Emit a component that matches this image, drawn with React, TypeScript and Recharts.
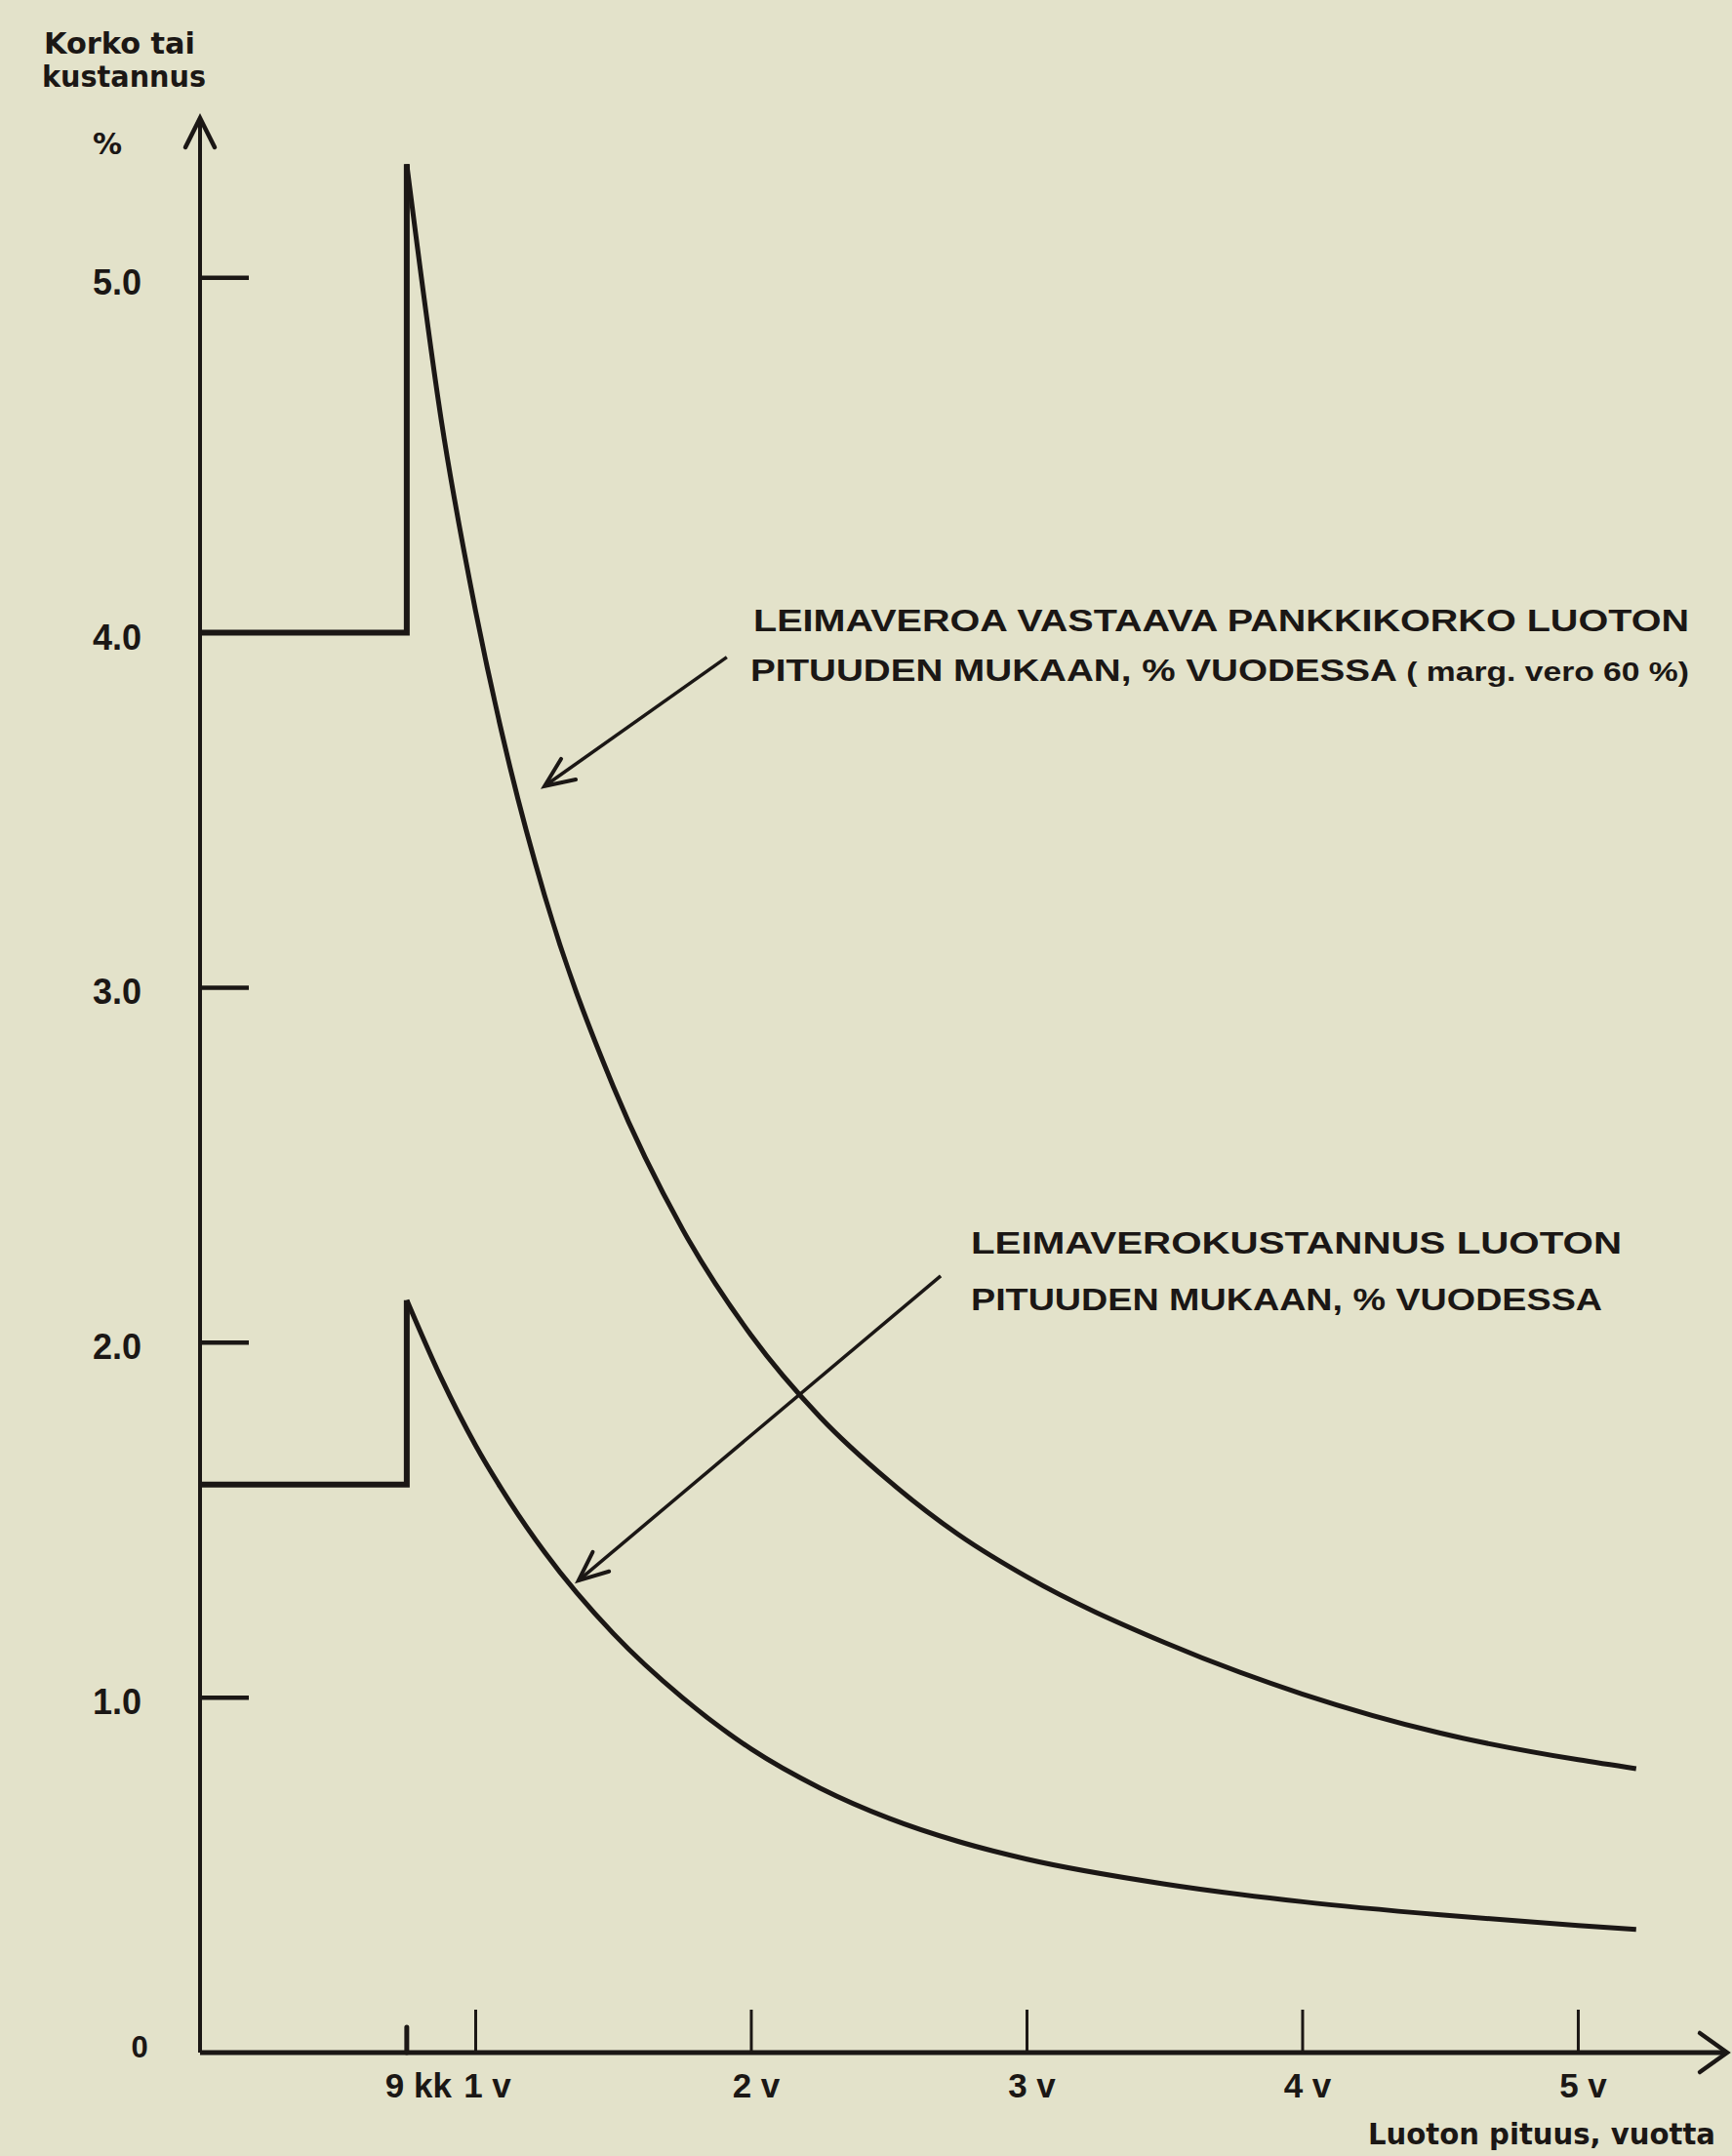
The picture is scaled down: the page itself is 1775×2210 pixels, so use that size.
import { LineChart, Line, XAxis, YAxis, ReferenceLine } from "recharts";

// loan length in years vs. rate / cost in % per year
const stepX = [0, 0.75, 0.75];
const bankRateStep = [4.0, 4.0, 5.32];
const stampCostStep = [1.6, 1.6, 2.12];

const curveX = [0.75, 0.875, 1, 1.125, 1.25, 1.5, 1.75, 2, 2.25, 2.5, 2.75, 3, 3.5, 4, 4.5, 5, 5.21];
const bankRateCurve = [
  5.32, 4.6, 4.06, 3.62, 3.26, 2.72, 2.32, 2.02, 1.79, 1.61, 1.46, 1.34, 1.155, 1.01, 0.9, 0.825, 0.8,
];
const stampCostCurve = [
  2.12, 1.9, 1.71, 1.55, 1.41, 1.18, 1.0, 0.855, 0.745, 0.66, 0.595, 0.545, 0.475, 0.425, 0.388, 0.358, 0.347,
];

const xTicks = [0.75, 1, 2, 3, 4, 5];
const xTickLabels = ["9 kk", "1 v", "2 v", "3 v", "4 v", "5 v"];
const yTicks = [0, 1, 2, 3, 4, 5];

// annotation arrows (from label to curve), in chart units
const bankArrow = [
  { x: 1.911, y: 3.931 },
  { x: 1.25, y: 3.568 },
];
const stampArrow = [
  { x: 2.687, y: 2.188 },
  { x: 1.373, y: 1.33 },
];

const ink = "#1b1715";
const paper = "#e3e2ca";
const tickFont = "'Liberation Sans', Arial, sans-serif";
const titleFont = "'DejaVu Sans', 'Noto Sans', sans-serif";

const toRows = (xs: number[], ys: number[]) => xs.map((x, i) => ({ x, y: ys[i] }));

const XTick = (props: any) => {
  const { x, y, payload, index } = props;
  const v = payload.value;
  const small = v === 0.75;
  const dx = v <= 1 ? 12 : 5;
  return (
    <g>
      <line
        x1={x}
        x2={x}
        y1={y}
        y2={y - (small ? 26 : 44)}
        stroke={ink}
        strokeWidth={small ? 5 : 3}
        strokeLinecap={small ? "round" : "butt"}
      />
      <text
        x={x + dx}
        y={y + 46}
        textAnchor="middle"
        fontFamily={tickFont}
        fontWeight="bold"
        fontSize={35}
        fill={ink}
      >
        {xTickLabels[index] ?? ""}
      </text>
    </g>
  );
};

const YTick = (props: any) => {
  const { x, y, payload } = props;
  const v = payload.value;
  if (v === 0) {
    return (
      <text x={x - 62} y={y + 5} textAnchor="middle" fontFamily={tickFont} fontWeight="bold" fontSize={31} fill={ink}>
        0
      </text>
    );
  }
  return (
    <g>
      <line x1={x} x2={x + 50} y1={y} y2={y} stroke={ink} strokeWidth={4.5} />
      <text x={x - 85} y={y + 17} textAnchor="middle" fontFamily={tickFont} fontWeight="bold" fontSize={36} fill={ink}>
        {v.toFixed(1)}
      </text>
    </g>
  );
};

// line with an open V head at its end point
const arrowShape = (len: number, half: number, width: number, drawShaft: boolean) => (p: any) => {
  const { x1, y1, x2, y2 } = p;
  const dx = x2 - x1;
  const dy = y2 - y1;
  const d = Math.hypot(dx, dy) || 1;
  const ux = dx / d;
  const uy = dy / d;
  const bx = x2 - ux * len;
  const by = y2 - uy * len;
  const w1 = `${bx - uy * half},${by + ux * half}`;
  const w2 = `${bx + uy * half},${by - ux * half}`;
  return (
    <g>
      {drawShaft && <line x1={x1} y1={y1} x2={x2} y2={y2} stroke={ink} strokeWidth={width} />}
      <polyline
        points={`${w1} ${x2},${y2} ${w2}`}
        fill="none"
        stroke={ink}
        strokeWidth={width + 0.5}
        strokeLinecap="round"
        strokeLinejoin="miter"
      />
    </g>
  );
};

export default function App() {
  return (
    <div style={{ position: "absolute", left: 0, top: 0, width: 1775, height: 2210, background: paper }}>
      <LineChart width={1775} height={2210} margin={{ top: 121, right: 5, bottom: 105, left: 204 }}>
        <XAxis
          type="number"
          dataKey="x"
          domain={[0, 5.54]}
          ticks={xTicks}
          interval={0}
          height={1}
          tickSize={0}
          tickMargin={0}
          tickLine={false}
          axisLine={{ stroke: ink, strokeWidth: 5 }}
          tick={XTick}
        />
        <YAxis
          type="number"
          domain={[0, 5.45]}
          ticks={yTicks}
          interval={0}
          width={1}
          tickSize={0}
          tickMargin={0}
          tickLine={false}
          axisLine={{ stroke: ink, strokeWidth: 4 }}
          tick={YTick}
        />
        <ReferenceLine
          segment={[{ x: 0, y: 5.2 }, { x: 0, y: 5.45 }]}
          ifOverflow="visible"
          shape={arrowShape(30, 15, 4, false)}
        />
        <ReferenceLine
          segment={[{ x: 5.3, y: 0 }, { x: 5.54, y: 0 }]}
          ifOverflow="visible"
          shape={arrowShape(28, 20, 4, false)}
        />
        <ReferenceLine segment={bankArrow} ifOverflow="visible" shape={arrowShape(30, 13, 3.5, true)} />
        <ReferenceLine segment={stampArrow} ifOverflow="visible" shape={arrowShape(30, 13, 3.5, true)} />
        <Line
          data={toRows(stepX, bankRateStep)}
          dataKey="y"
          type="linear"
          stroke={ink}
          strokeWidth={6}
          dot={false}
          activeDot={false}
          isAnimationActive={false}
        />
        <Line
          data={toRows(curveX, bankRateCurve)}
          dataKey="y"
          type="monotone"
          stroke={ink}
          strokeWidth={5}
          dot={false}
          activeDot={false}
          isAnimationActive={false}
        />
        <Line
          data={toRows(stepX, stampCostStep)}
          dataKey="y"
          type="linear"
          stroke={ink}
          strokeWidth={6}
          dot={false}
          activeDot={false}
          isAnimationActive={false}
        />
        <Line
          data={toRows(curveX, stampCostCurve)}
          dataKey="y"
          type="monotone"
          stroke={ink}
          strokeWidth={5}
          dot={false}
          activeDot={false}
          isAnimationActive={false}
        />
      </LineChart>
      <svg
        width={1775}
        height={2210}
        style={{ position: "absolute", left: 0, top: 0, pointerEvents: "none" }}
      >
        <g fill={ink} fontWeight="bold">
          <text x={45} y={55} fontFamily={titleFont} fontSize={31} textLength={155} lengthAdjust="spacingAndGlyphs">
            Korko tai
          </text>
          <text x={43} y={89} fontFamily={titleFont} fontSize={31} textLength={168} lengthAdjust="spacingAndGlyphs">
            kustannus
          </text>
          <text x={110} y={158} textAnchor="middle" fontFamily={titleFont} fontSize={30}>
            %
          </text>
          <text x={772} y={647} fontFamily={tickFont} fontSize={31} textLength={959} lengthAdjust="spacingAndGlyphs">
            LEIMAVEROA VASTAAVA PANKKIKORKO LUOTON
          </text>
          <text x={769} y={698} fontFamily={tickFont} fontSize={31} textLength={962} lengthAdjust="spacingAndGlyphs">
            PITUUDEN MUKAAN, % VUODESSA <tspan fontSize={27}>( marg. vero 60 %)</tspan>
          </text>
          <text x={995} y={1285} fontFamily={tickFont} fontSize={31} textLength={667} lengthAdjust="spacingAndGlyphs">
            LEIMAVEROKUSTANNUS LUOTON
          </text>
          <text x={995} y={1343} fontFamily={tickFont} fontSize={31} textLength={647} lengthAdjust="spacingAndGlyphs">
            PITUUDEN MUKAAN, % VUODESSA
          </text>
          <text x={1402} y={2198} fontFamily={titleFont} fontSize={30} textLength={356} lengthAdjust="spacingAndGlyphs">
            Luoton pituus, vuotta
          </text>
        </g>
      </svg>
    </div>
  );
}
